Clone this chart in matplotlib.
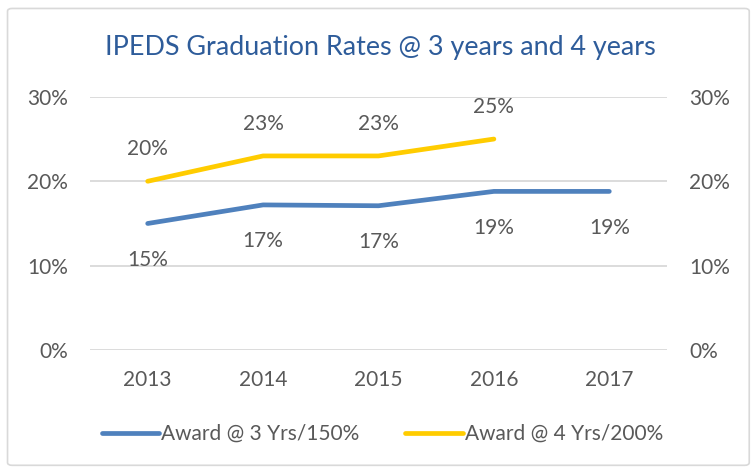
import numpy as np
import matplotlib.pyplot as plt
from matplotlib.patches import FancyBboxPatch

plt.rcParams['font.family'] = ['Lato', 'DejaVu Sans']

years = ['2013', '2014', '2015', '2016', '2017']
award_3yr = [15.0, 17.2, 17.1, 18.8, 18.8]
award_4yr = [20.0, 23.0, 23.0, 25.0]
labels_3yr = ['15%', '17%', '17%', '19%', '19%']
labels_4yr = ['20%', '23%', '23%', '25%']

blue = '#4F81BD'
yellow = '#FFCC00'
grey_txt = '#595959'

fig = plt.figure(figsize=(7.53, 4.70), dpi=100)
ax = fig.add_axes([0.1195, 0.255, 0.7663, 0.539])

# chart border
fig.patches.append(FancyBboxPatch((0.010, 0.01), 0.985, 0.972, boxstyle='round,pad=0,rounding_size=0.006',
                                  transform=fig.transFigure, fill=False, ec='#D9D9D9', lw=1.2))

x = np.arange(len(years))
l1, = ax.plot(x, award_3yr, color=blue, lw=3.4, solid_capstyle='round', label='Award @ 3 Yrs/150%')
l2, = ax.plot(x[:len(award_4yr)], award_4yr, color=yellow, lw=3.4, solid_capstyle='round',
              label='Award @ 4 Yrs/200%')

for xi, v, t in zip(x, award_3yr, labels_3yr):
    ax.annotate(t, (xi, v), xytext=(0, -26), textcoords='offset points', ha='center', va='center',
                fontsize=15, color=grey_txt)
for xi, v, t in zip(x, award_4yr, labels_4yr):
    ax.annotate(t, (xi, v), xytext=(0, 23), textcoords='offset points', ha='center', va='center',
                fontsize=15, color=grey_txt)

ax.set_xlim(-0.5, 4.5)
ax.set_ylim(0, 30)
ax.set_yticks([0, 10, 20, 30])
ax.set_yticklabels(['0%', '10%', '20%', '30%'])
ax.set_xticks(x)
ax.set_xticklabels(years)
ax.grid(axis='y', color='#D9D9D9', lw=1.3)
ax.set_axisbelow(True)
for s in ax.spines.values():
    s.set_visible(False)
ax.tick_params(length=0, labelsize=15, colors=grey_txt, pad=14)
ax.tick_params(axis='y', pad=16)

ax2 = ax.twinx()
ax2.set_ylim(0, 30)
ax2.set_yticks([0, 10, 20, 30])
ax2.set_yticklabels(['0%', '10%', '20%', '30%'])
for s in ax2.spines.values():
    s.set_visible(False)
ax2.tick_params(length=0, labelsize=15, colors=grey_txt, pad=16)

fig.text(0.505, 0.9, 'IPEDS Graduation Rates @ 3 years and 4 years', ha='center', va='center',
         fontsize=19.4, color='#2E5C9A')

fig.legend(handles=[l1, l2], loc='center', bbox_to_anchor=(0.508, 0.077), ncol=2, frameon=False,
           fontsize=15, labelcolor=grey_txt, handlelength=2.75, handletextpad=0.1, columnspacing=2.2)

fig.savefig('out.png', dpi=100)
